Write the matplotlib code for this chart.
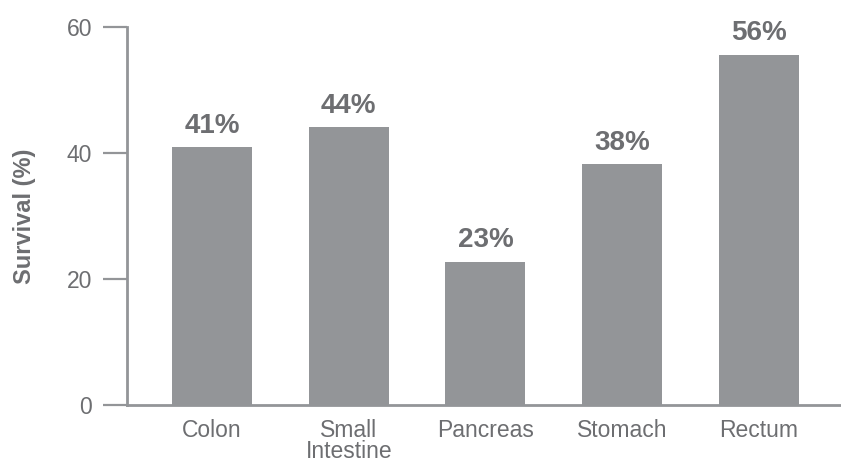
import matplotlib
matplotlib.use("Agg")
import matplotlib.pyplot as plt
import numpy as np

# data
categories = ["Colon", "Small\nIntestine", "Pancreas", "Stomach", "Rectum"]
survival = [40.9, 44.1, 22.7, 38.2, 55.6]
value_labels = ["41%", "44%", "23%", "38%", "56%"]
yticks = [0, 20, 40, 60]

BAR = "#939598"
AXIS = "#939598"
TEXT = "#6d6e71"

plt.rcParams["font.family"] = ["Liberation Sans", "DejaVu Sans"]

fig = plt.figure(figsize=(8.41, 4.63), dpi=100)
ax = fig.add_axes([127 / 841, 58 / 463, 714 / 841, 378 / 463])

x = np.arange(len(categories))
bars = ax.bar(x, survival, width=0.585, color=BAR, zorder=2)

for b, lab in zip(bars, value_labels):
    ax.annotate(lab, (b.get_x() + b.get_width() / 2, b.get_height()),
                xytext=(0, 10.5), textcoords="offset points",
                ha="center", va="baseline", fontsize=20, fontweight="bold",
                color=TEXT)

ax.set_xlim(-0.6216, 4.6)
ax.set_ylim(0, 60)
ax.set_yticks(yticks)
ax.set_xticks(x)
ax.set_xticklabels(categories, fontsize=16.5, color=TEXT, linespacing=0.88)
ax.tick_params(axis="x", length=0, pad=10)
ax.tick_params(axis="y", length=17, width=1.6, color=AXIS, pad=8,
               labelsize=16.5, labelcolor=TEXT)

for side in ("top", "right"):
    ax.spines[side].set_visible(False)
for side in ("left", "bottom"):
    ax.spines[side].set_color(AXIS)
    ax.spines[side].set_linewidth(2)

ax.set_ylabel("Survival (%)", fontsize=17, fontweight="bold", color=TEXT,
              labelpad=22)

fig.savefig("out.png", dpi=100)
